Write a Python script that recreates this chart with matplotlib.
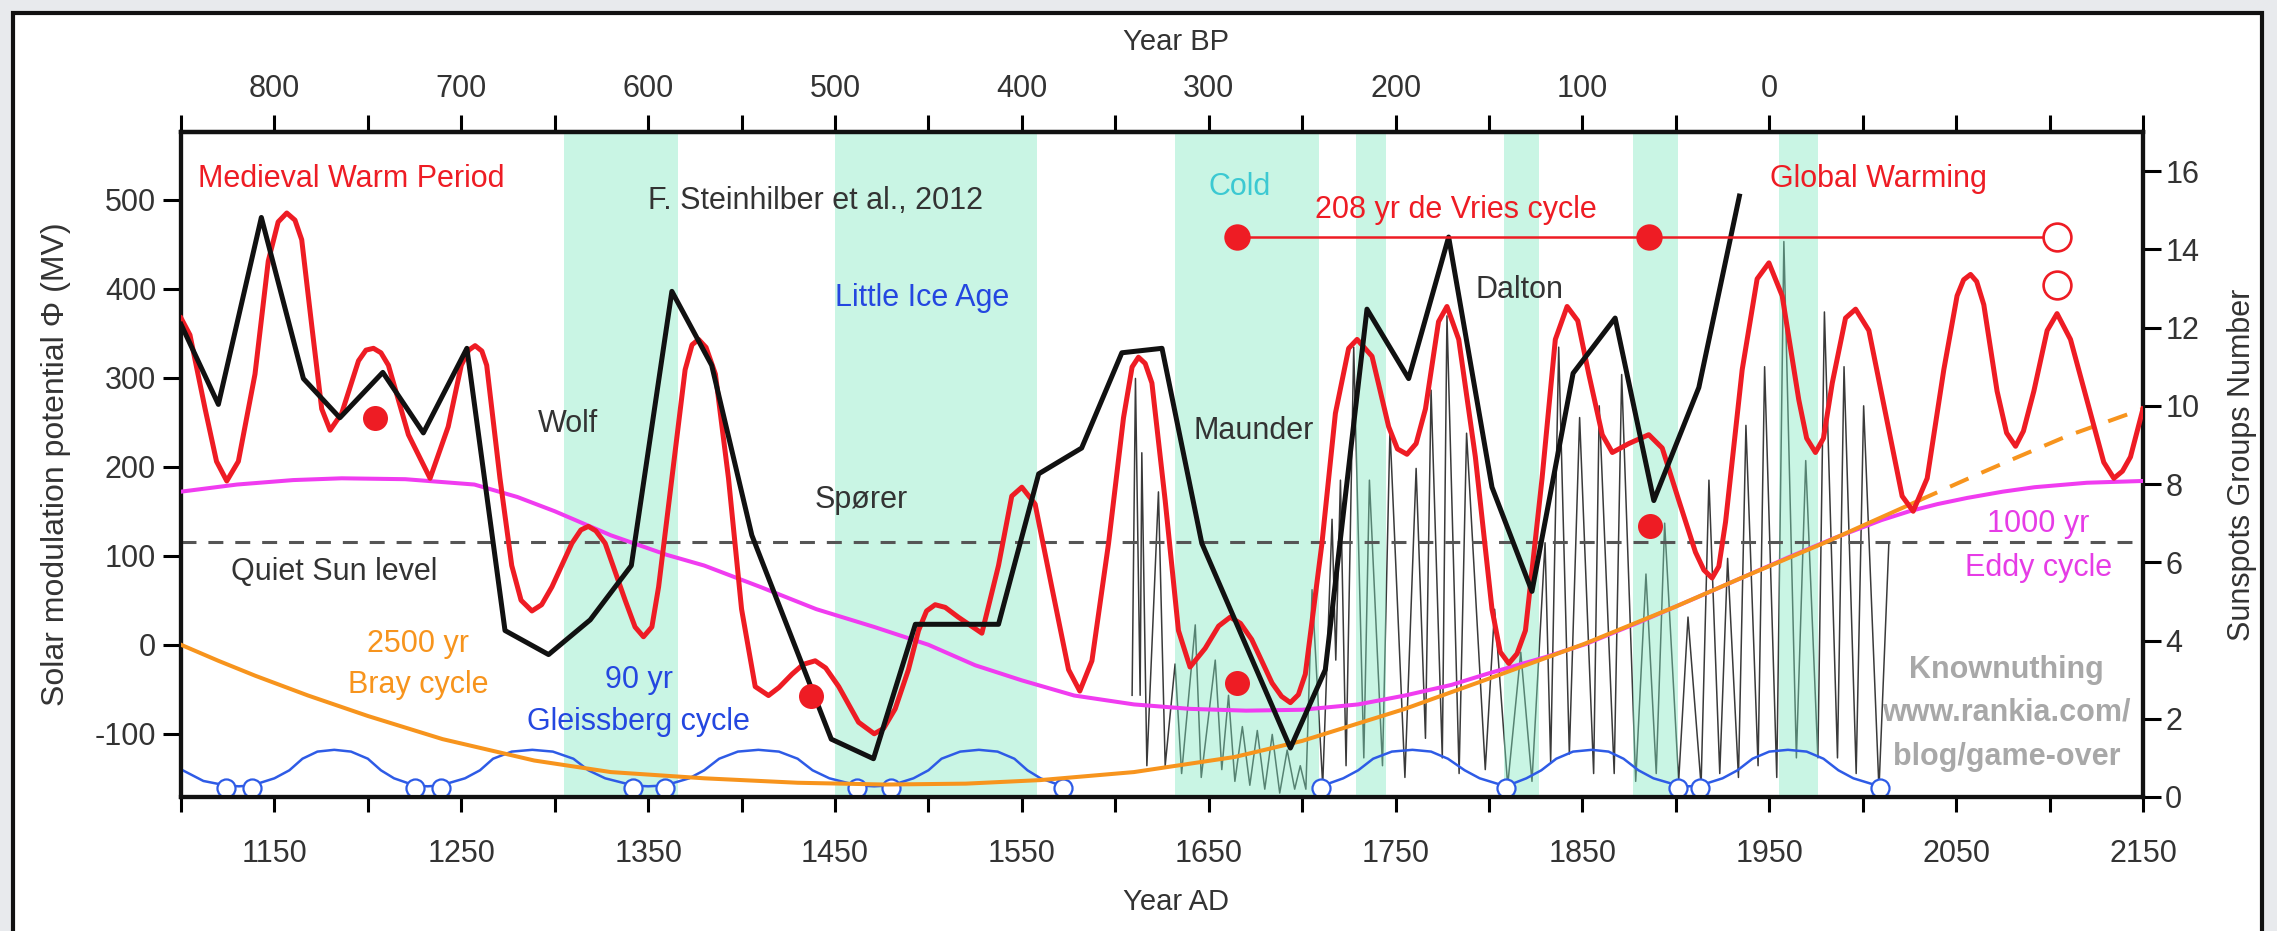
import matplotlib
matplotlib.use("Agg")
import matplotlib.pyplot as plt
from matplotlib.patches import Rectangle

plt.rcParams['font.family'] = ['Liberation Sans', 'DejaVu Sans']
plt.rcParams['axes.unicode_minus'] = False

# ---- data ----
# red: solar modulation potential (MV), smoothed reconstruction + projection
red_year = [1100, 1104.8, 1112.9, 1119, 1124.5, 1130.7, 1139.6, 1146.7, 1152, 1156.6,
            1161, 1164.6, 1170, 1175.3, 1179.8, 1186, 1195, 1199, 1203, 1207,
            1211, 1221.7, 1233.3, 1243, 1250, 1254, 1257.4, 1261, 1263.6, 1270.7,
            1277, 1282, 1287.8, 1293, 1298.5, 1309.2, 1314, 1318, 1322, 1327,
            1337.7, 1343, 1347.5, 1352, 1355.6, 1362.7, 1369.8, 1373.5, 1377, 1381,
            1386, 1393, 1400, 1407.3, 1414.4, 1420, 1427, 1433, 1439.4, 1445,
            1452, 1462.6, 1471, 1476, 1482.2, 1489.3, 1494.7, 1499, 1503.6, 1509,
            1516, 1528.6, 1537.5, 1544.6, 1550, 1557.1, 1566, 1575, 1581, 1587.5,
            1596.4, 1604.4, 1609, 1612.4, 1616, 1619.6, 1626.7, 1633.8, 1640, 1648.1,
            1655.3, 1661.5, 1667, 1673, 1683.9, 1689, 1693.7, 1698, 1701.7, 1710.6,
            1717.8, 1724.9, 1729.4, 1737.4, 1746.3, 1751, 1756.1, 1761, 1766, 1773,
            1777.5, 1783.8, 1792.7, 1801.6, 1806, 1810.6, 1815, 1819.5, 1828.4, 1835.5,
            1841.8, 1847.5, 1853.4, 1860.6, 1866, 1874.8, 1885.5, 1892.7, 1901.6, 1910.5,
            1915, 1919.4, 1923, 1926.6, 1935.5, 1943.5, 1949.8, 1956.9, 1965.8, 1970,
            1974.7, 1979, 1983.7, 1990.8, 1996.2, 2003.3, 2012.2, 2021.1, 2027, 2034.5,
            2043.4, 2050.5, 2054, 2057.7, 2061, 2064.8, 2071.9, 2077, 2081.8, 2086,
            2091.6, 2098.7, 2104, 2111.2, 2121.9, 2129, 2134.4, 2139, 2143.3, 2150]
red_phi = [367, 348, 265, 206, 184, 206, 304, 431, 475, 485,
           477, 455, 358, 265, 241, 260, 319, 331, 333, 328,
           314, 236, 187, 245, 314, 331, 336, 330, 314, 187,
           89, 50, 38, 45, 65, 114, 129, 133, 128, 114,
           50, 20, 9, 20, 65, 187, 309, 337, 343, 334,
           304, 187, 40, -47, -57, -48, -33, -22, -18, -26,
           -47, -87, -100, -94, -72, -28, 16, 38, 45, 42,
           31, 13, 89, 167, 177, 158, 65, -28, -52, -18,
           114, 255, 312, 323, 316, 294, 162, 16, -25, -4,
           21, 31, 24, 6, -43, -58, -65, -56, -33, 114,
           260, 333, 343, 324, 245, 220, 214, 226, 265, 363,
           380, 343, 211, 40, -8, -21, -10, 16, 187, 343,
           380, 364, 304, 236, 216, 226, 236, 221, 162, 104,
           84, 75, 88, 138, 309, 411, 429, 392, 275, 232,
           216, 232, 294, 367, 377, 353, 260, 167, 150, 187,
           309, 392, 410, 416, 408, 382, 285, 238, 223, 240,
           285, 353, 372, 343, 260, 205, 187, 195, 211, 265]

# black: Steinhilber et al. 2012 (MV)
blk_year = [1100, 1120, 1143, 1165.5, 1185, 1208, 1229.7, 1253, 1273.4, 1296.7,
            1319, 1341, 1362.7, 1384, 1405.5, 1448, 1470.6, 1493, 1537.5, 1559,
            1582, 1603.5, 1625, 1646.3, 1693.7, 1712.4, 1734.7, 1757, 1778.4, 1801.6,
            1823, 1845, 1867.5, 1888.2, 1912.3, 1934]
blk_phi = [360, 270, 480, 299, 255, 306, 238, 333, 16, -11,
           28, 89, 397, 314, 123, -106, -128, 23, 23, 192,
           221, 328, 333, 114, -116, -28, 377, 299, 458, 177,
           60, 305, 367, 162, 289, 504]

# magenta: 1000 yr Eddy cycle
eddy_year = [1100, 1130, 1160, 1186, 1220, 1257, 1280, 1300, 1330, 1360, 1380, 1410,
             1440, 1471, 1500, 1525, 1550, 1578, 1610, 1640, 1670, 1700, 1730, 1755,
             1780, 1800, 1830, 1852, 1880, 1910, 1935, 1960, 1985, 2010, 2025, 2040,
             2056, 2075, 2092, 2120, 2150]
eddy_phi = [172, 180, 185, 187, 186, 180, 166, 150, 123, 101, 89, 65,
            40, 20, 0, -23, -40, -57, -67, -72, -74, -73, -67, -57,
            -45, -32, -14, 1, 25, 52, 75, 98, 120, 140, 150, 158,
            165, 172, 177, 182, 184]

# orange: 2500 yr Bray cycle (solid part, then projection)
bray_year = [1100, 1120, 1140, 1168, 1200, 1240, 1289, 1330, 1380, 1430, 1477, 1520,
             1560, 1610, 1664, 1700, 1755, 1800, 1851, 1900, 1935, 1980, 2030]
bray_phi = [0, -18, -35, -57, -80, -106, -130, -143, -150, -155, -157, -156,
            -152, -143, -126, -108, -72, -38, 1, 43, 75, 115, 162]
bray_proj_year = [2030, 2060, 2082, 2110, 2150]
bray_proj_phi = [162, 190, 210, 235, 265]

# blue: 90 yr Gleissberg cycle (two pieces)
gl1_year = [1100, 1112, 1124, 1131, 1138, 1150, 1158, 1165, 1173, 1182, 1191, 1200, 1207,
            1214, 1225, 1232, 1239, 1252, 1260, 1267, 1277, 1288, 1299, 1310, 1318,
            1327, 1342, 1350, 1359, 1372, 1380, 1388, 1398, 1409, 1420, 1430, 1438,
            1447, 1462, 1471, 1480, 1492, 1500, 1507, 1517, 1527, 1537, 1546, 1553,
            1560, 1572]
gl1_phi = [-140, -153, -158, -159, -158, -150, -141, -128, -120, -118, -120, -128, -141,
           -150, -158, -159, -158, -150, -141, -128, -120, -118, -120, -128, -141,
           -150, -158, -159, -158, -150, -141, -128, -120, -118, -120, -128, -141,
           -150, -158, -159, -158, -150, -141, -128, -120, -118, -120, -128, -141,
           -150, -159]
gl2_year = [1710, 1722, 1730, 1738, 1748, 1759, 1769, 1778, 1787, 1795, 1809, 1820, 1828,
            1836, 1845, 1855, 1864, 1872, 1880, 1888, 1901, 1907, 1913, 1925, 1933,
            1941, 1950, 1960, 1970, 1979, 1987, 1995, 2009]
gl2_phi = [-159, -150, -141, -128, -120, -118, -120, -128, -141, -150, -159, -150, -141,
           -128, -120, -118, -120, -128, -141, -150, -158, -159, -158, -150, -141,
           -128, -120, -118, -120, -128, -141, -150, -159]
gl_min_year = [1124, 1138, 1225, 1239, 1342, 1359, 1462, 1480, 1572, 1710, 1809,
               1901, 1913, 2009]
gl_min_phi = [-161] * len(gl_min_year)

# thin grey: sunspot group number (right axis)
ss_year = [1609, 1610.8, 1613.3, 1614.2, 1616.9, 1623.1, 1626.7, 1632.0, 1635.5, 1642.8,
           1646.0, 1653.5, 1657.0, 1660.6, 1664.0, 1668.0, 1672.0, 1676.0, 1680.0, 1684.0,
           1688.0, 1692.0, 1696.0, 1699.0, 1702.0, 1705.3, 1711.0, 1716.0, 1718.0, 1720.5,
           1723.5, 1727.6, 1733.0, 1736.0, 1743.0, 1747.0, 1755.0, 1761.0, 1766.0, 1769.0,
           1775.0, 1777.5, 1784.0, 1788.0, 1798.0, 1803.0, 1810.0, 1817.0, 1823.0, 1830.0,
           1833.0, 1837.3, 1843.0, 1848.5, 1856.0, 1859.0, 1867.0, 1871.0, 1878.5, 1884.0,
           1889.5, 1894.0, 1901.5, 1906.5, 1913.5, 1917.7, 1923.5, 1927.7, 1933.5, 1937.5,
           1944.0, 1947.5, 1954.0, 1957.8, 1964.5, 1969.5, 1976.0, 1979.5, 1986.5, 1990.0,
           1996.5, 2000.5, 2008.7, 2014.0]
ss_val = [2.6, 10.7, 2.6, 8.8, 0.8, 7.8, 0.8, 3.4, 0.6, 4.4,
          0.5, 3.5, 0.7, 2.6, 0.4, 1.8, 0.3, 1.7, 0.2, 1.6,
          0.1, 1.2, 0.2, 0.8, 0.2, 5.3, 0.3, 7.1, 3.5, 8.1,
          0.8, 11.5, 1.0, 8.1, 0.8, 9.4, 0.5, 8.4, 1.5, 10.4,
          1.0, 12.3, 0.6, 9.3, 0.7, 4.8, 0.3, 3.7, 0.4, 6.5,
          0.9, 11.5, 1.1, 9.7, 0.6, 10.0, 0.6, 10.8, 0.4, 5.7,
          0.6, 7.0, 0.4, 4.6, 0.3, 8.1, 0.6, 6.1, 0.5, 9.5,
          0.8, 11.0, 0.5, 14.2, 1.0, 8.6, 1.0, 12.4, 1.0, 11.0,
          0.6, 10.0, 0.2, 6.5]

# cold periods (shaded)
cold_start = [1305, 1450, 1632, 1729, 1808, 1877, 1955]
cold_end = [1366, 1558, 1709, 1745, 1827, 1901, 1976]

quiet_sun = 116
dots_year = [1204, 1437, 1665, 1886]
dots_phi = [255, -57, -43, 133]
devries_year = [1665, 1885.5, 2104]
devries_phi = 458
open_year = [2104, 2104]
open_phi = [458, 404]

ad_ticks = list(range(1100, 2151, 50))
ad_labels = [str(t) if t % 100 == 50 else '' for t in ad_ticks]
bp_ticks = list(range(850, -201, -50))
bp_labels = [str(t) if (t % 100 == 0 and 0 <= t <= 800) else '' for t in bp_ticks]
phi_ticks = [-100, 0, 100, 200, 300, 400, 500]
ss_ticks = [0, 2, 4, 6, 8, 10, 12, 14, 16]

# ---- colours ----
RED = '#ee1c24'
BLK = '#111111'
MAG = '#f03cf0'
ORG = '#f7941d'
BLU = '#2e5be6'
TXT = '#333333'
MINT = '#7fe8c0'

fig = plt.figure(figsize=(22.77, 9.31), dpi=100)
fig.patch.set_facecolor('#e8eaed')
fig.add_artist(Rectangle((13 / 2277, -0.05), (2262 - 13) / 2277, 1.05 - 13 / 931,
                         transform=fig.transFigure, facecolor='white',
                         edgecolor='#111111', lw=3, zorder=0))

ax = fig.add_axes([181 / 2277, 1 - 797 / 931, (2143 - 181) / 2277, (797 - 132) / 931])
ax2 = ax.twinx()
ax.set_zorder(2)
ax2.set_zorder(1)
ax.patch.set_visible(False)
ax2.patch.set_visible(True)
ax2.patch.set_facecolor('white')

# sunspots + shading on the back axes
ax2.plot(ss_year, ss_val, color='#3a3a3a', lw=1.1, zorder=2)
for a, b in zip(cold_start, cold_end):
    ax2.axvspan(a, b, color=MINT, alpha=0.42, lw=0, zorder=3)
ax2.set_ylim(0, 17)
ax2.set_yticks(ss_ticks)

# main series
ax.axhline(quiet_sun, color='#555555', lw=2.2, dashes=(4.9, 3.9), zorder=1)
ax.plot(gl1_year, gl1_phi, color=BLU, lw=1.8, zorder=2)
ax.plot(gl2_year, gl2_phi, color=BLU, lw=1.8, zorder=2)
ax.plot(gl_min_year, gl_min_phi, 'o', ms=13, mfc='white', mec=BLU, mew=1.6, zorder=2.5)
ax.plot(eddy_year, eddy_phi, color=MAG, lw=2.9, zorder=3)
ax.plot(bray_year, bray_phi, color=ORG, lw=2.9, zorder=4)
ax.plot(bray_proj_year, bray_proj_phi, color=ORG, lw=2.9, dashes=(5, 3.5), zorder=4)
ax.plot(red_year, red_phi, color=RED, lw=3.6, zorder=5, solid_joinstyle='round')
ax.plot(blk_year, blk_phi, color=BLK, lw=3.6, zorder=6)
ax.plot(dots_year, dots_phi, 'o', ms=18, color=RED, mec='none', zorder=7)
ax.plot([devries_year[0], devries_year[-1]], [devries_phi] * 2, color=RED, lw=1.8, zorder=7)
ax.plot(devries_year[:2], [devries_phi] * 2, 'o', ms=19, color=RED, mec='none', zorder=8)
ax.plot(open_year, open_phi, 'o', ms=20, mfc='white', mec=RED, mew=1.9, zorder=8)

ax.set_xlim(1100, 2150)
ax.set_ylim(-171, 576)
ax.set_xticks(ad_ticks)
ax.set_xticklabels(ad_labels)
ax.set_yticks(phi_ticks)

# top axis in years BP
sec = ax.secondary_xaxis('top', functions=(lambda x: 1950 - x, lambda x: 1950 - x))
sec.set_xticks(bp_ticks)
sec.set_xticklabels(bp_labels)

for a in (ax, ax2):
    for s in a.spines.values():
        s.set_linewidth(3)
        s.set_color('#111111')
sec.spines['top'].set_linewidth(3)

ax.tick_params(axis='x', direction='out', length=11, width=2.2, pad=19,
               labelsize=22, labelcolor=TXT)
ax.tick_params(axis='y', direction='out', length=13, width=2.2, pad=5,
               labelsize=22, labelcolor=TXT)
ax2.tick_params(axis='y', direction='out', length=13, width=2.2, pad=3,
                labelsize=22, labelcolor=TXT)
sec.tick_params(axis='x', direction='out', length=12, width=2.2, pad=8,
                labelsize=22, labelcolor=TXT)

ax.set_xlabel('Year AD', fontsize=21, color=TXT)
ax.xaxis.set_label_coords(0.507, -0.137)
ax.text(0.507, 1.135, 'Year BP', transform=ax.transAxes, fontsize=21, color=TXT,
        ha='center', va='center')
ax.set_ylabel('Solar modulation potential Φ (MV)', fontsize=23, color=TXT)
ax.yaxis.set_label_coords(-0.056, 0.5)
ax2.set_ylabel('Sunspots Groups Number', fontsize=22, color=TXT)
ax2.yaxis.set_label_coords(1.043, 0.5)

# annotations
fs = 22
ax.text(1109, 523, 'Medieval Warm Period', color=RED, fontsize=fs, va='center')
ax.text(1350, 498, 'F. Steinhilber et al., 2012', color=TXT, fontsize=fs, va='center')
ax.text(1450, 390, 'Little Ice Age', color='#2447e0', fontsize=fs, va='center')
ax.text(1291, 248, 'Wolf', color=TXT, fontsize=fs, va='center')
ax.text(1439, 163, 'Spører', color=TXT, fontsize=fs, va='center')
ax.text(1642, 240, 'Maunder', color=TXT, fontsize=fs, va='center')
ax.text(1650, 514, 'Cold', color='#3cc9d2', fontsize=fs, va='center')
ax.text(1707, 488, '208 yr de Vries cycle', color=RED, fontsize=fs, va='center')
ax.text(1793, 399, 'Dalton', color=TXT, fontsize=fs, va='center')
ax.text(1950.6, 523, 'Global Warming', color=RED, fontsize=fs, va='center')
ax.text(1127, 82, 'Quiet Sun level', color=TXT, fontsize=fs, va='center')
ax.text(1227, 1, '2500 yr', color=ORG, fontsize=fs, va='center', ha='center')
ax.text(1227, -45, 'Bray cycle', color=ORG, fontsize=fs, va='center', ha='center')
ax.text(1345, -40, '90 yr', color='#2447e0', fontsize=fs, va='center', ha='center')
ax.text(1345, -87, 'Gleissberg cycle', color='#2447e0', fontsize=fs, va='center', ha='center')
ax.text(2094, 136, '1000 yr', color='#e63ce6', fontsize=fs, va='center', ha='center')
ax.text(2094, 86, 'Eddy cycle', color='#e63ce6', fontsize=fs, va='center', ha='center')
for yy, s in zip([-28, -76, -126], ['Knownuthing', 'www.rankia.com/', 'blog/game-over']):
    ax.text(2077, yy, s, color='#a8a8a8', fontsize=fs, fontweight='bold',
            va='center', ha='center')

fig.savefig('out.png', dpi=100, facecolor=fig.get_facecolor())
